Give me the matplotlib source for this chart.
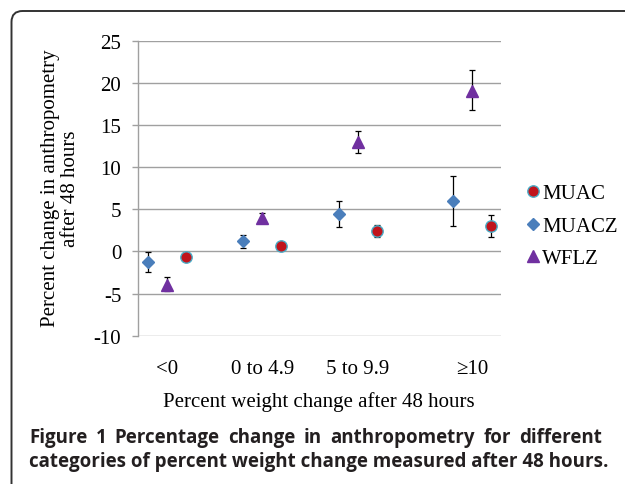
import numpy as np
import matplotlib.pyplot as plt
from matplotlib.patches import FancyBboxPatch

plt.rcParams['axes.unicode_minus'] = False

categories = ['<0', '0 to 4.9', '5 to 9.9', '\u226510']
cat_x = [1.0, 2.0, 3.0, 4.2]

muac = [-0.7, 0.65, 2.45, 3.05]
muac_lo = [-1.0, 0.4, 1.7, 1.7]
muac_hi = [-0.4, 0.9, 3.15, 4.35]

muacz = [-1.25, 1.2, 4.45, 6.0]
muacz_lo = [-2.45, 0.45, 2.95, 3.0]
muacz_hi = [-0.1, 1.95, 5.95, 8.95]

wflz = [-3.95, 4.0, 12.95, 19.1]
wflz_lo = [-4.75, 3.6, 11.7, 16.8]
wflz_hi = [-3.05, 4.55, 14.35, 21.5]

caption_1 = ['Figure', '1', 'Percentage', 'change', 'in', 'anthropometry', 'for', 'different']
caption_2 = 'categories of percent weight change measured after 48 hours.'

serif = 'Liberation Serif'
fig = plt.figure(figsize=(6.25, 4.85), dpi=100)
ax = fig.add_axes([0.2208, 0.3058, 0.5808, 0.6076])


def draw_series(ax, xs, ys, lo, hi, marker, color, size, edge, label):
    ys = np.array(ys)
    err = np.array([ys - np.array(lo), np.array(hi) - ys])
    ax.errorbar(xs, ys, yerr=err, fmt='none', ecolor='black', elinewidth=0.9,
                capsize=2.3, capthick=0.9, zorder=3)
    ax.plot(xs, ys, linestyle='none', marker=marker, color=color, markersize=size,
            markeredgecolor=edge, markeredgewidth=1.0, zorder=4, label=label)


x = np.array(cat_x)
draw_series(ax, x + 0.2, muac, muac_lo, muac_hi, 'o', '#c0141c', 8.2, '#4bacc6', 'MUAC')
draw_series(ax, x - 0.2, muacz, muacz_lo, muacz_hi, 'D', '#4a7ebb', 6.0, '#4a7ebb', 'MUACZ')
draw_series(ax, x, wflz, wflz_lo, wflz_hi, '^', '#7030a0', 8.5, '#7030a0', 'WFLZ')

ax.set_xlim(0.7, 4.5)
ax.set_ylim(-10, 25)
ax.set_yticks(np.arange(-10, 26, 5))
ax.grid(axis='y', color='#a0a0a0', linewidth=1.0)
ax.set_axisbelow(True)
for side in ['top', 'right', 'bottom']:
    ax.spines[side].set_visible(False)
ax.spines['left'].set_color('#a0a0a0')
ax.spines['left'].set_linewidth(1.0)
ax.tick_params(axis='y', colors='#a0a0a0', length=4, width=1.0, pad=8,
               labelcolor='black', labelsize=15)
for lab in ax.get_yticklabels():
    lab.set_fontfamily(serif)

ax.set_xticks(cat_x)
ax.set_xticklabels(categories, fontfamily=serif, fontsize=15)
ax.tick_params(axis='x', length=0, pad=17)

fig.text(0.097, 0.611, 'Percent change in anthropometry\nafter 48 hours', rotation=90,
         ha='center', va='center', multialignment='center', fontfamily=serif,
         fontsize=15, linespacing=1.07)
fig.text(318.5 / 625, 1 - 402 / 485, 'Percent weight change after 48 hours', ha='center',
         va='center', fontfamily=serif, fontsize=15)

ax.legend(loc='center left', bbox_to_anchor=(516 / 625, 1 - 227 / 485),
          bbox_transform=fig.transFigure, frameon=False, handlelength=0.6,
          handletextpad=0.15, labelspacing=0.62, borderpad=0,
          prop={'family': serif, 'size': 15})

# caption, first line justified
cap_font = dict(fontfamily='Open Sans', fontweight='bold', fontsize=13.5, color='#231f20')
renderer = fig.canvas.get_renderer()
words = [fig.text(0, 0, w, **cap_font) for w in caption_1]
widths = [t.get_window_extent(renderer).width for t in words]
left, right = 29.0, 602.0
gap = (right - left - sum(widths)) / (len(words) - 1)
pos = left
for t, w in zip(words, widths):
    t.set_position((pos / 625, 1 - 443 / 485))
    t.set_va('baseline')
    pos += w + gap
fig.text(left / 625, 1 - 467 / 485, caption_2, va='baseline', **cap_font)

frame = FancyBboxPatch((11.5, -60), 700, 473 + 60, boxstyle='round,pad=0,rounding_size=11',
                       transform=None, facecolor='none', edgecolor='#333333', linewidth=1.4)
fig.patches.append(frame)

fig.savefig('out.png', dpi=100)
